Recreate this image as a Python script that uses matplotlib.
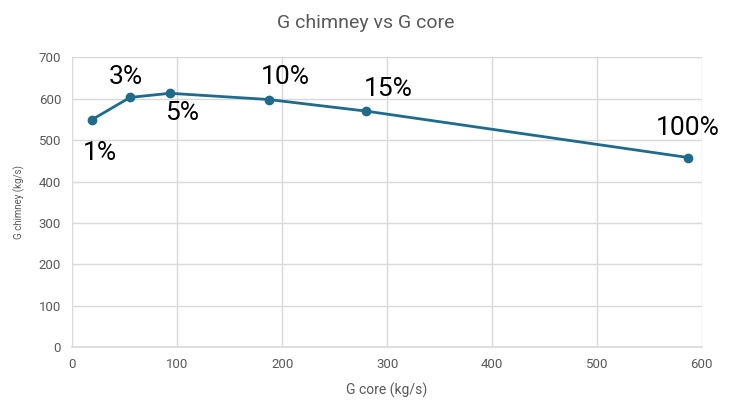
import matplotlib
matplotlib.use("Agg")
import matplotlib.pyplot as plt

# data
g_core = [18.5, 55, 93, 187, 280, 587]
g_chimney = [549, 603, 613, 598, 570, 458]
labels = ["1%", "3%", "5%", "10%", "15%", "100%"]

# label offsets in points (position only)
offsets = [(6, -24), (-3, 15), (9, -14), (12, 16), (16, 16), (0, 21)]

plt.rcParams["font.family"] = ["Roboto", "DejaVu Sans"]

LINE = "#1e6b8c"
GRID = "#d9d9d9"
TXT = "#595959"

fig = plt.figure(figsize=(7.32, 4.03), dpi=100)
ax = fig.add_axes([0.0988, 0.138, 0.860, 0.720])

ax.plot(g_core, g_chimney, color=LINE, linewidth=2, marker="o",
        markersize=6, zorder=3)

for x, y, lab, off in zip(g_core, g_chimney, labels, offsets):
    ax.annotate(lab, xy=(x, y), xytext=off, textcoords="offset points",
                ha="center", va="center", fontsize=19, color="black")

ax.set_xlim(0, 600)
ax.set_ylim(0, 700)
ax.set_xticks(range(0, 601, 100))
ax.set_yticks(range(0, 701, 100))
ax.grid(True, color=GRID, linewidth=1)
ax.set_axisbelow(True)
for s in ["top", "right", "left"]:
    ax.spines[s].set_visible(False)
ax.spines["bottom"].set_color(GRID)
ax.spines["bottom"].set_linewidth(1.2)
ax.tick_params(length=0, colors=TXT, labelsize=9.5, pad=8)

ax.set_xlabel("G core (kg/s)", fontsize=10, color=TXT, labelpad=8)
ax.set_ylabel("G chimney (kg/s)", fontsize=7, color=TXT, labelpad=10)
fig.suptitle("G chimney vs G core", fontsize=14, color=TXT, y=0.965)

fig.savefig("out.png", dpi=100)
